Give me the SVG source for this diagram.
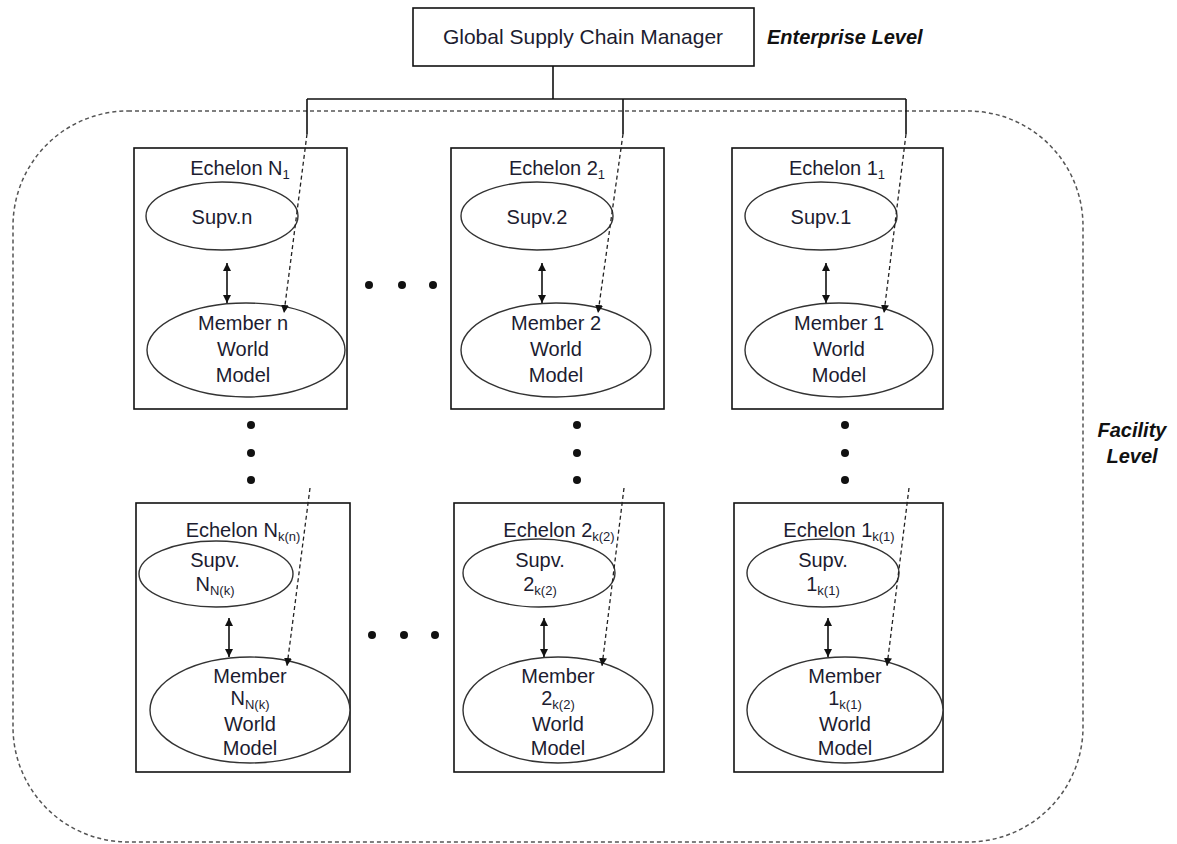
<svg xmlns="http://www.w3.org/2000/svg" width="1177" height="844" viewBox="0 0 1177 844">
  <style>
    .box { fill: #fff; stroke: #111; stroke-width: 1.6; }
    .ell { fill: #fff; stroke: #333; stroke-width: 1.4; }
    .lbl { font-family: "Liberation Sans", Arial, sans-serif; font-size: 20px; fill: #1c1c30; text-anchor: middle; }
    .lvl { font-family: "Liberation Sans", Arial, sans-serif; font-size: 20px; font-weight: bold; font-style: italic; fill: #111; }
    .sub { font-size: 13px; }
    .solid { fill: none; stroke: #111; stroke-width: 1.6; }
    .dash { fill: none; stroke: #222; stroke-width: 1.3; stroke-dasharray: 4 3; }
    .bound { fill: none; stroke: #555; stroke-width: 1.5; stroke-dasharray: 4 3; }
    .dot { fill: #111; }
  </style>
  <defs>
    <marker id="head" viewBox="0 0 10 10" refX="10" refY="5" markerWidth="8" markerHeight="8" markerUnits="userSpaceOnUse" orient="auto-start-reverse">
      <path d="M0,0 L10,5 L0,10 z" fill="#111"/>
    </marker>
  </defs>

  <!-- facility boundary -->
  <rect class="bound" x="13" y="111" width="1070" height="731" rx="115" ry="115"/>

  <!-- enterprise level manager -->
  <g id="manager">
    <rect class="box" x="413" y="8" width="341" height="58"/>
    <text class="lbl" x="583" y="44" style="font-size:21px">Global Supply Chain Manager</text>
  </g>
  <text class="lvl" x="767" y="44">Enterprise Level</text>
  <text class="lvl" x="1132" y="437" text-anchor="middle">Facility</text>
  <text class="lvl" x="1132" y="463" text-anchor="middle">Level</text>

  <!-- echelon row 1 -->
  <g id="echelon-n1">
    <rect class="box" x="134" y="148" width="213" height="261"/>
    <text class="lbl" x="240" y="175">Echelon N<tspan class="sub" dy="4">1</tspan></text>
    <ellipse class="ell" cx="222" cy="216" rx="76" ry="34"/>
    <text class="lbl" x="222" y="224">Supv.n</text>
    <ellipse class="ell" cx="246" cy="350" rx="99" ry="47"/>
    <text class="lbl" x="243" y="330">Member n</text>
    <text class="lbl" x="243" y="356">World</text>
    <text class="lbl" x="243" y="382">Model</text>
  </g>
  <g id="echelon-21">
    <rect class="box" x="451" y="148" width="213" height="261"/>
    <text class="lbl" x="557" y="175">Echelon 2<tspan class="sub" dy="4">1</tspan></text>
    <ellipse class="ell" cx="537" cy="216" rx="76" ry="34"/>
    <text class="lbl" x="537" y="224">Supv.2</text>
    <ellipse class="ell" cx="556" cy="350" rx="95" ry="47"/>
    <text class="lbl" x="556" y="330">Member 2</text>
    <text class="lbl" x="556" y="356">World</text>
    <text class="lbl" x="556" y="382">Model</text>
  </g>
  <g id="echelon-11">
    <rect class="box" x="732" y="148" width="211" height="261"/>
    <text class="lbl" x="837" y="175">Echelon 1<tspan class="sub" dy="4">1</tspan></text>
    <ellipse class="ell" cx="821" cy="216" rx="76" ry="34"/>
    <text class="lbl" x="821" y="224">Supv.1</text>
    <ellipse class="ell" cx="839" cy="350" rx="94" ry="47"/>
    <text class="lbl" x="839" y="330">Member 1</text>
    <text class="lbl" x="839" y="356">World</text>
    <text class="lbl" x="839" y="382">Model</text>
  </g>

  <!-- echelon row k -->
  <g id="echelon-nk">
    <rect class="box" x="136" y="503" width="214" height="269"/>
    <text class="lbl" x="243" y="537">Echelon N<tspan class="sub" dy="4">k(n)</tspan></text>
    <ellipse class="ell" cx="216" cy="574" rx="77" ry="33"/>
    <text class="lbl" x="215" y="567">Supv.</text>
    <text class="lbl" x="215" y="591">N<tspan class="sub" dy="4">N(k)</tspan></text>
    <ellipse class="ell" cx="250" cy="710" rx="100" ry="53"/>
    <text class="lbl" x="250" y="683">Member</text>
    <text class="lbl" x="250" y="705">N<tspan class="sub" dy="4">N(k)</tspan></text>
    <text class="lbl" x="250" y="731">World</text>
    <text class="lbl" x="250" y="755">Model</text>
  </g>
  <g id="echelon-2k">
    <rect class="box" x="454" y="503" width="210" height="269"/>
    <text class="lbl" x="559" y="537">Echelon 2<tspan class="sub" dy="4">k(2)</tspan></text>
    <ellipse class="ell" cx="539" cy="573" rx="76" ry="34"/>
    <text class="lbl" x="540" y="567">Supv.</text>
    <text class="lbl" x="540" y="591">2<tspan class="sub" dy="4">k(2)</tspan></text>
    <ellipse class="ell" cx="558" cy="710" rx="95" ry="53"/>
    <text class="lbl" x="558" y="683">Member</text>
    <text class="lbl" x="558" y="705">2<tspan class="sub" dy="4">k(2)</tspan></text>
    <text class="lbl" x="558" y="731">World</text>
    <text class="lbl" x="558" y="755">Model</text>
  </g>
  <g id="echelon-1k">
    <rect class="box" x="734" y="503" width="209" height="269"/>
    <text class="lbl" x="839" y="537">Echelon 1<tspan class="sub" dy="4">k(1)</tspan></text>
    <ellipse class="ell" cx="823" cy="573" rx="76" ry="34"/>
    <text class="lbl" x="823" y="567">Supv.</text>
    <text class="lbl" x="823" y="591">1<tspan class="sub" dy="4">k(1)</tspan></text>
    <ellipse class="ell" cx="845" cy="710" rx="98" ry="53"/>
    <text class="lbl" x="845" y="683">Member</text>
    <text class="lbl" x="845" y="705">1<tspan class="sub" dy="4">k(1)</tspan></text>
    <text class="lbl" x="845" y="731">World</text>
    <text class="lbl" x="845" y="755">Model</text>
  </g>

  <!-- ellipsis dots -->
  <g id="dots">
    <circle class="dot" cx="369" cy="285" r="4"/>
    <circle class="dot" cx="402" cy="285" r="4"/>
    <circle class="dot" cx="433" cy="285" r="4"/>
    <circle class="dot" cx="372" cy="635" r="4"/>
    <circle class="dot" cx="404" cy="635" r="4"/>
    <circle class="dot" cx="435" cy="635" r="4"/>
    <circle class="dot" cx="251" cy="425" r="4"/>
    <circle class="dot" cx="251" cy="453" r="4"/>
    <circle class="dot" cx="251" cy="480" r="4"/>
    <circle class="dot" cx="577" cy="425" r="4"/>
    <circle class="dot" cx="577" cy="453" r="4"/>
    <circle class="dot" cx="577" cy="480" r="4"/>
    <circle class="dot" cx="845" cy="425" r="4"/>
    <circle class="dot" cx="845" cy="453" r="4"/>
    <circle class="dot" cx="845" cy="480" r="4"/>
  </g>

  <g id="connectors">
    <!-- manager distribution tree -->
    <path class="solid" d="M553,66 V99 M307,99 H906 M307,99 V134 M623,99 V134 M906,99 V134"/>
    <!-- manager to member world models -->
    <path class="dash" d="M307,134 L284,313" marker-end="url(#head)"/>
    <path class="dash" d="M623,134 L598,313" marker-end="url(#head)"/>
    <path class="dash" d="M906,134 L884,313" marker-end="url(#head)"/>
    <path class="dash" d="M310,488 L287,666" marker-end="url(#head)"/>
    <path class="dash" d="M624,488 L602,666" marker-end="url(#head)"/>
    <path class="dash" d="M909,488 L887,666" marker-end="url(#head)"/>
    <!-- supervisor / member links -->
    <path class="solid" d="M227,263 V303" marker-start="url(#head)" marker-end="url(#head)"/>
    <path class="solid" d="M542,263 V303" marker-start="url(#head)" marker-end="url(#head)"/>
    <path class="solid" d="M826,263 V303" marker-start="url(#head)" marker-end="url(#head)"/>
    <path class="solid" d="M229,618 V657" marker-start="url(#head)" marker-end="url(#head)"/>
    <path class="solid" d="M544,618 V657" marker-start="url(#head)" marker-end="url(#head)"/>
    <path class="solid" d="M828,618 V657" marker-start="url(#head)" marker-end="url(#head)"/>
  </g>
</svg>
